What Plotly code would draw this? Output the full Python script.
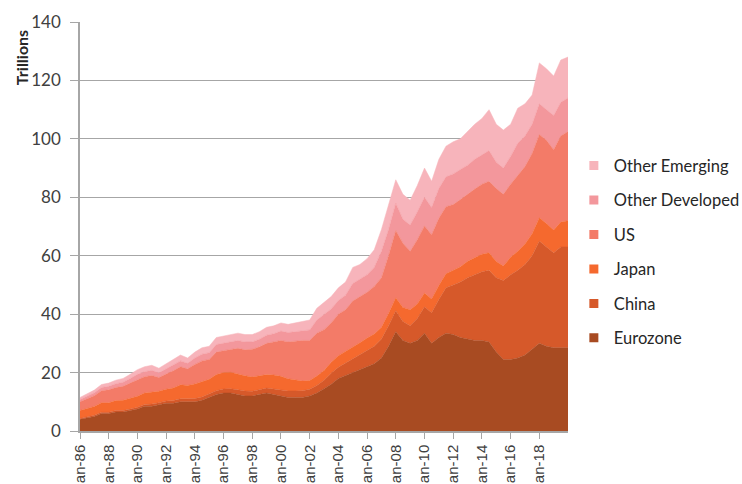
import plotly.graph_objects as go

# Semi-annual readings (Jan, Jul) 1986-2019, plus end of 2019
years = list(range(1986, 2020))
dates = [d for y in years for d in (f"{y}-01-01", f"{y}-07-01")] + ["2019-12-31"]

eurozone = [4.0, 4.5, 5.0, 6.0, 6.0, 6.5, 6.5, 7.0, 7.5, 8.5, 8.5, 9.0, 9.5, 9.5, 10.0, 10.0,
            10.0, 10.5, 11.5, 12.5, 13.0, 13.0, 12.5, 12.0, 12.0, 12.5, 13.0, 12.5, 12.0, 11.5,
            11.5, 11.5, 12.0, 13.0, 14.5, 16.0, 18.0, 19.0, 20.0, 21.0, 22.0, 23.0, 25.0, 29.0,
            34.0, 31.0, 30.0, 31.0, 33.5, 30.0, 32.0, 33.5, 33.0, 32.0, 31.5, 31.0, 31.0, 30.5,
            27.0, 24.5, 24.5, 25.0, 26.0, 28.0, 30.0, 29.0, 28.5, 28.5, 28.5]
china = [0.3, 0.3, 0.4, 0.4, 0.4, 0.5, 0.5, 0.5, 0.6, 0.6, 0.7, 0.7, 0.8, 0.9, 1.0, 1.0,
         1.1, 1.1, 1.2, 1.3, 1.4, 1.5, 1.6, 1.7, 1.6, 1.6, 1.7, 1.9, 2.1, 2.2,
         2.2, 2.3, 2.3, 2.6, 2.9, 3.8, 3.8, 4.2, 4.6, 5.0, 5.5, 6.0, 6.5, 7.0,
         7.2, 6.5, 6.0, 7.5, 9.0, 10.5, 13.0, 15.5, 17.0, 19.0, 21.0, 22.5, 23.5, 24.5,
         25.5, 27.0, 29.0, 30.0, 31.0, 32.0, 35.0, 34.0, 32.5, 34.5, 34.5]
japan = [2.7, 2.9, 3.0, 3.3, 3.3, 3.4, 3.5, 3.7, 3.8, 3.9, 4.0, 3.9, 4.0, 4.3, 4.8, 4.6,
         5.0, 5.3, 5.0, 5.5, 5.6, 5.6, 5.3, 5.2, 4.9, 4.7, 4.6, 4.8, 4.6, 4.2,
         3.8, 3.3, 3.0, 3.2, 3.3, 3.7, 4.0, 4.0, 4.0, 4.2, 4.3, 4.2, 4.0, 4.2,
         4.4, 4.8, 5.5, 5.0, 4.7, 4.7, 4.8, 4.8, 5.0, 5.2, 5.6, 5.8, 6.0, 6.0,
         5.5, 5.0, 6.0, 6.5, 7.0, 7.5, 8.0, 8.0, 7.8, 8.5, 9.0]
us = [3.0, 3.3, 3.7, 4.1, 4.4, 4.5, 4.8, 5.2, 5.7, 5.6, 5.8, 4.7, 5.2, 5.9, 6.2, 5.7,
      6.7, 7.1, 6.8, 7.7, 7.5, 7.9, 8.9, 8.9, 9.5, 10.0, 10.7, 11.3, 12.3, 12.6,
      13.3, 13.9, 13.7, 14.7, 14.0, 13.5, 14.2, 14.3, 15.9, 15.8, 15.7, 16.3, 17.0, 19.8,
      23.0, 22.0, 20.0, 22.0, 23.0, 22.0, 23.0, 23.0, 22.5, 23.0, 23.0, 23.5, 24.0, 24.5,
      25.0, 24.5, 25.0, 26.0, 26.5, 27.5, 28.5, 28.5, 27.5, 29.5, 30.5]
other_developed = [0.8, 0.9, 1.0, 1.1, 1.2, 1.3, 1.4, 1.6, 1.8, 1.7, 1.8, 1.6, 1.7, 2.0, 2.0, 1.9,
                   2.2, 2.3, 2.3, 2.6, 2.5, 2.5, 2.7, 2.7, 2.5, 2.6, 2.8, 2.8, 3.2, 3.2,
                   3.2, 3.4, 3.6, 4.5, 5.3, 4.8, 4.7, 5.0, 6.0, 6.0, 6.0, 6.5, 9.0, 9.0,
                   9.4, 8.2, 9.0, 9.5, 9.8, 9.3, 10.2, 10.2, 10.5, 10.3, 9.9, 10.2, 10.0, 10.5,
                   9.0, 9.0, 9.5, 11.0, 10.5, 10.0, 10.5, 10.5, 11.7, 11.5, 11.5]
other_emerging = [0.7, 0.8, 0.9, 1.0, 1.1, 1.2, 1.3, 1.4, 1.6, 1.7, 1.7, 1.6, 1.8, 1.9, 2.0, 1.8,
                  2.0, 2.2, 2.2, 2.4, 2.5, 2.5, 2.5, 2.5, 2.5, 2.6, 2.7, 2.7, 2.8, 2.8,
                  3.0, 3.1, 3.4, 4.0, 4.0, 4.2, 4.3, 4.5, 5.5, 5.0, 5.5, 6.0, 7.5, 8.0,
                  8.0, 8.5, 8.5, 9.0, 10.0, 9.0, 10.0, 10.5, 11.0, 10.5, 11.5, 12.0, 12.5, 14.0,
                  13.0, 13.0, 11.0, 12.0, 11.0, 10.0, 14.0, 14.0, 13.5, 14.5, 14.0]

series_names = ["Eurozone", "China", "Japan", "US", "Other Developed", "Other Emerging"]
series_values = [eurozone, china, japan, us, other_developed, other_emerging]
colors = ["#A84B22", "#D6592A", "#F5692E", "#F37B68", "#F3979C", "#F7B4BB"]

tick_vals = [f"{y}-01-01" for y in range(1986, 2019, 2)]
tick_labels = [f"Jan-{str(y)[2:]}" for y in range(1986, 2019, 2)]

fig = go.Figure()
for name, vals, col in zip(series_names, series_values, colors):
    fig.add_trace(go.Scatter(x=dates, y=vals, name=name, stackgroup="one", mode="lines",
                             line=dict(width=0.5, color=col), fillcolor=col,
                             showlegend=False, hoverinfo="x+y+name"))
# legend entries, top to bottom: Other Emerging ... Eurozone
for name, col in reversed(list(zip(series_names, colors))):
    fig.add_trace(go.Scatter(x=[None], y=[None], name=name, mode="markers",
                             marker=dict(symbol="square", size=9, color=col),
                             legendgroup=name, showlegend=True))

grey = "#A6A6A6"
fig.update_layout(
    width=742, height=484,
    margin=dict(l=80, r=174, t=22, b=53, autoexpand=False),
    paper_bgcolor="white", plot_bgcolor="white",
    font=dict(family="Lato, Open Sans, sans-serif", color="#404040"),
    showlegend=True,
    legend=dict(x=1.012, xanchor="left", y=0.438, yanchor="middle",
                traceorder="grouped", tracegroupgap=10,
                font=dict(size=16.5, family="Lato, sans-serif", color="#262626"),
                itemsizing="trace", bgcolor="rgba(0,0,0,0)"),
    xaxis=dict(type="date", range=["1986-01-01", "2019-12-31"],
               tickmode="array", tickvals=tick_vals, ticktext=tick_labels,
               tickangle=-90, ticks="outside", ticklen=6, tickcolor=grey,
               showline=True, linecolor=grey, linewidth=1.5,
               showgrid=False, zeroline=False, automargin=False,
               tickfont=dict(family="Liberation Sans, Arial, sans-serif", size=15, color="#404040")),
    yaxis=dict(range=[0, 140], dtick=20, tick0=0,
               ticks="outside", ticklen=8, tickcolor=grey,
               showline=True, linecolor=grey, linewidth=1.5,
               showgrid=True, gridcolor=grey, gridwidth=1.3,
               zeroline=False, automargin=False, ticklabelstandoff=6,
               tickfont=dict(family="Lato, sans-serif", size=17, color="#404040")),
    annotations=[dict(text="<b>Trillions</b>", xref="paper", yref="paper",
                      x=-0.121, y=0.914, xanchor="center", yanchor="middle",
                      textangle=-90, showarrow=False,
                      font=dict(size=16, family="Lato, sans-serif", color="#262626"))],
)

fig.write_html("out.html", config={"displayModeBar": False},
               post_script="document.body.style.margin='0px';")
